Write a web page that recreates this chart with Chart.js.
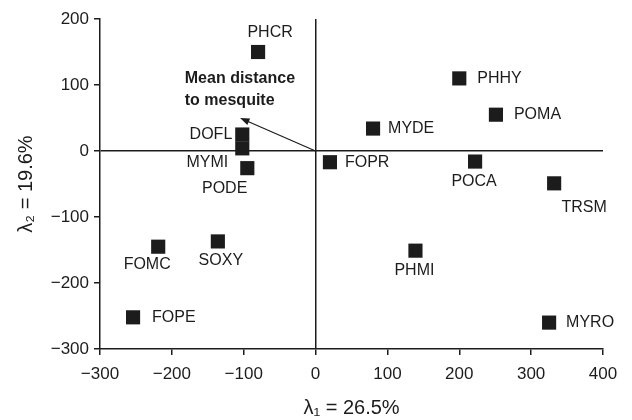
<!DOCTYPE html>
<html>
<head>
<meta charset="utf-8">
<script src="https://cdn.jsdelivr.net/npm/chart.js@4"></script>
<style>
  html, body { margin: 0; padding: 0; background: #fff; }
  #wrap { width: 632px; height: 420px; }
</style>
</head>
<body>
<div id="wrap"><canvas id="ordination"></canvas></div>
<script>
// Species scores on the first two axes
const species = ["PHCR", "DOFL", "MYMI", "PODE", "FOMC", "SOXY", "FOPE",
  "MYDE", "PHHY", "POMA", "FOPR", "POCA", "TRSM", "PHMI", "MYRO"];
const axis1 = [-80, -102, -102, -95, -219, -136, -254, 80, 200, 251, 20, 222, 332, 139, 325];
const axis2 = [150, 25, 4, -26, -145, -137, -252, 34, 110, 55, -17, -16, -49, -151, -260];

// Environmental vector (mean distance to mesquite)
const vectorEnd = [-105, 50];
const vectorLabel = ["Mean distance", "to mesquite"];

const xTicks = [-300, -200, -100, 0, 100, 200, 300, 400];
const yTicks = [-300, -200, -100, 0, 100, 200];

const ink = "#1c1c1c";
const font = "Liberation Sans, Arial, Helvetica, sans-serif";

// where each label sits relative to its square (pixels)
const labelPos = {
  PHCR: { dx: 12, dy: -19, align: "center" },
  DOFL: { dx: -10, dy: 0, align: "right" },
  MYMI: { dx: -14, dy: 14, align: "right" },
  PODE: { dx: 0, dy: 20, align: "right" },
  FOMC: { dx: -11, dy: 18, align: "center" },
  SOXY: { dx: 3, dy: 19, align: "center" },
  FOPE: { dx: 19, dy: 0, align: "left" },
  MYDE: { dx: 15, dy: 0, align: "left" },
  PHHY: { dx: 18, dy: 0, align: "left" },
  POMA: { dx: 18, dy: 0, align: "left" },
  FOPR: { dx: 15, dy: 0, align: "left" },
  POCA: { dx: -1, dy: 20, align: "center" },
  TRSM: { dx: 30, dy: 24, align: "center" },
  PHMI: { dx: -1, dy: 20, align: "center" },
  MYRO: { dx: 17, dy: 0, align: "left" }
};

const minus = v => (v < 0 ? "\u2212" + Math.abs(v) : String(v));

// labels, arrow and annotation drawn on top of the plot
const annotate = {
  id: "annotate",
  afterDatasetsDraw(chart) {
    const { ctx, scales: { x, y } } = chart;
    ctx.save();
    ctx.fillStyle = ink;
    ctx.font = "16px " + font;
    ctx.textBaseline = "middle";
    species.forEach((name, i) => {
      const p = labelPos[name];
      ctx.textAlign = p.align;
      ctx.fillText(name, x.getPixelForValue(axis1[i]) + p.dx, y.getPixelForValue(axis2[i]) + p.dy);
    });

    // arrow from origin
    const x0 = x.getPixelForValue(0), y0 = y.getPixelForValue(0);
    const x1 = x.getPixelForValue(vectorEnd[0]), y1 = y.getPixelForValue(vectorEnd[1]);
    const ang = Math.atan2(y1 - y0, x1 - x0);
    const head = 10;
    ctx.strokeStyle = ink;
    ctx.lineWidth = 1.2;
    ctx.beginPath();
    ctx.moveTo(x0, y0);
    ctx.lineTo(x1 - Math.cos(ang) * head * 0.8, y1 - Math.sin(ang) * head * 0.8);
    ctx.stroke();
    ctx.beginPath();
    ctx.moveTo(x1, y1);
    ctx.lineTo(x1 - head * Math.cos(ang - 0.35), y1 - head * Math.sin(ang - 0.35));
    ctx.lineTo(x1 - head * Math.cos(ang + 0.35), y1 - head * Math.sin(ang + 0.35));
    ctx.closePath();
    ctx.fill();

    ctx.font = "bold 16px " + font;
    ctx.textAlign = "left";
    ctx.fillText(vectorLabel[0], x.getPixelForValue(-182), y.getPixelForValue(109));
    ctx.fillText(vectorLabel[1], x.getPixelForValue(-182), y.getPixelForValue(77));
    ctx.restore();
  }
};

const zeroLine = c => (c.tick && c.tick.value === 0 ? ink : "rgba(0,0,0,0)");

new Chart(document.getElementById("ordination"), {
  type: "scatter",
  data: {
    datasets: [{
      data: species.map((s, i) => ({ x: axis1[i], y: axis2[i] })),
      pointStyle: "rect",
      pointRadius: 10,
      pointHoverRadius: 10,
      backgroundColor: ink,
      borderColor: ink,
      borderWidth: 0
    }]
  },
  options: {
    responsive: true,
    maintainAspectRatio: false,
    animation: false,
    layout: { padding: { top: 19, right: 29, left: 14, bottom: 0 } },
    plugins: { legend: { display: false }, tooltip: { enabled: false } },
    scales: {
      x: {
        type: "linear",
        min: -300, max: 400,
        afterBuildTicks: s => { s.ticks = xTicks.map(v => ({ value: v })); },
        afterFit: s => { s.height = 71; },
        border: { color: ink, width: 1.5 },
        grid: { color: zeroLine, lineWidth: 1.5, tickColor: ink, tickLength: 6 },
        ticks: { color: ink, font: { family: font, size: 17 }, padding: 9, maxRotation: 0, callback: minus },
        title: { display: true, text: "\u03bb\u2081 = 26.5%", color: ink, font: { family: font, size: 20 }, padding: { top: 2, bottom: 0 } }
      },
      y: {
        type: "linear",
        min: -300, max: 200,
        afterBuildTicks: s => { s.ticks = yTicks.map(v => ({ value: v })); },
        afterFit: s => { s.width = 86; },
        border: { color: ink, width: 1.5 },
        grid: { color: zeroLine, lineWidth: 1.5, tickColor: ink, tickLength: 6 },
        ticks: { color: ink, font: { family: font, size: 17 }, padding: 5, callback: minus },
        title: { display: true, text: "\u03bb\u2082 = 19.6%", color: ink, font: { family: font, size: 20 }, padding: { top: 0, bottom: 2 } }
      }
    }
  },
  plugins: [annotate]
});
</script>
</body>
</html>
